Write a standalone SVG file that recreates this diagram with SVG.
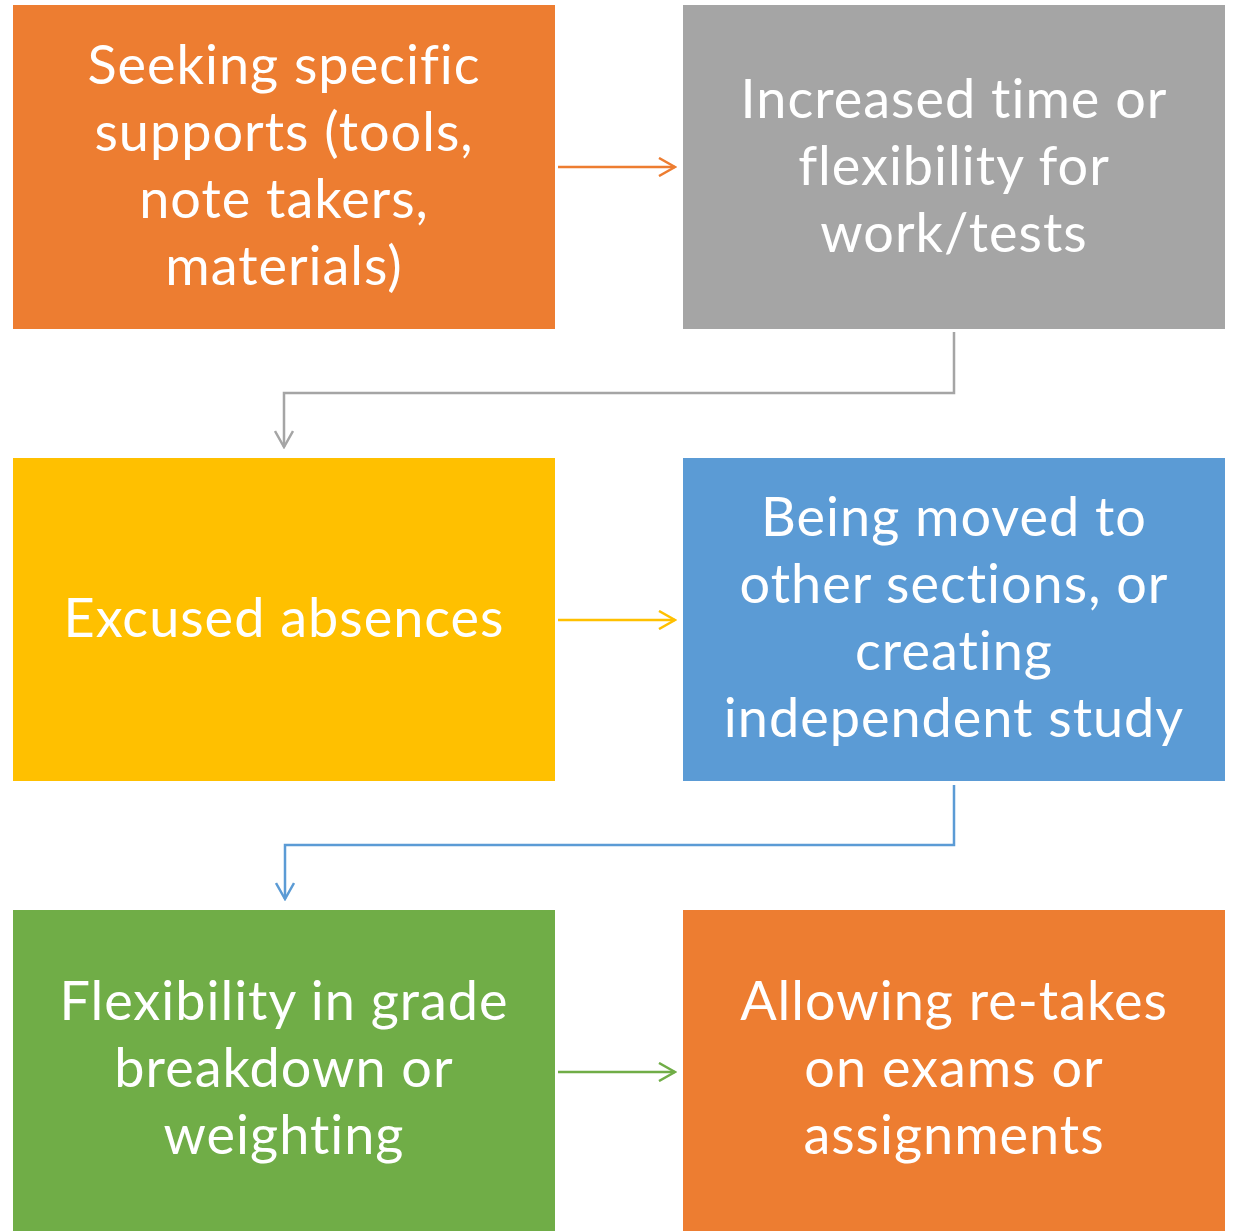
<svg xmlns="http://www.w3.org/2000/svg" width="1236" height="1231" viewBox="0 0 1236 1231">
<style>
.t{font-family:Lato,"Open Sans","Liberation Sans",sans-serif;font-size:54px;letter-spacing:1px;font-variant-ligatures:none;fill:#fff;text-anchor:middle}
.c{fill:none;stroke-width:2.5}
</style>
<defs>
<marker id="mo" viewBox="0 0 20 20" refX="18" refY="10" markerWidth="20" markerHeight="20" markerUnits="userSpaceOnUse" orient="auto"><path d="M2 1 L18 10 L2 19" fill="none" stroke="#ED7D31" stroke-width="2.5"/></marker>
<marker id="mg" viewBox="0 0 20 20" refX="18" refY="10" markerWidth="20" markerHeight="20" markerUnits="userSpaceOnUse" orient="auto"><path d="M2 1 L18 10 L2 19" fill="none" stroke="#A5A5A5" stroke-width="2.5"/></marker>
<marker id="my" viewBox="0 0 20 20" refX="18" refY="10" markerWidth="20" markerHeight="20" markerUnits="userSpaceOnUse" orient="auto"><path d="M2 1 L18 10 L2 19" fill="none" stroke="#FFC000" stroke-width="2.5"/></marker>
<marker id="mb" viewBox="0 0 20 20" refX="18" refY="10" markerWidth="20" markerHeight="20" markerUnits="userSpaceOnUse" orient="auto"><path d="M2 1 L18 10 L2 19" fill="none" stroke="#5B9BD5" stroke-width="2.5"/></marker>
<marker id="mgr" viewBox="0 0 20 20" refX="18" refY="10" markerWidth="20" markerHeight="20" markerUnits="userSpaceOnUse" orient="auto"><path d="M2 1 L18 10 L2 19" fill="none" stroke="#70AD47" stroke-width="2.5"/></marker>
</defs>
<rect width="1236" height="1231" fill="#fff"/>
<g id="connectors">
<path class="c" stroke="#ED7D31" d="M558 167 H675" marker-end="url(#mo)"/>
<path class="c" stroke="#A5A5A5" d="M954 332 V393 H284 V447" marker-end="url(#mg)"/>
<path class="c" stroke="#FFC000" d="M558 620 H675" marker-end="url(#my)"/>
<path class="c" stroke="#5B9BD5" d="M954 785 V845 H285 V899" marker-end="url(#mb)"/>
<path class="c" stroke="#70AD47" d="M558 1072 H675" marker-end="url(#mgr)"/>
</g>
<g id="n1">
<rect x="13" y="5" width="542" height="324" fill="#ED7D31"/>
<text class="t" x="284" y="84">Seeking specific</text>
<text class="t" x="284" y="151">supports (tools,</text>
<text class="t" x="284" y="218">note takers,</text>
<text class="t" x="284" y="285">materials)</text>
</g>
<g id="n2">
<rect x="683" y="5" width="542" height="324" fill="#A5A5A5"/>
<text class="t" x="954" y="118">Increased time or</text>
<text class="t" x="954" y="185">flexibility for</text>
<text class="t" x="954" y="252">work/tests</text>
</g>
<g id="n3">
<rect x="13" y="458" width="542" height="323" fill="#FFC000"/>
<text class="t" x="284" y="637">Excused absences</text>
</g>
<g id="n4">
<rect x="683" y="458" width="542" height="323" fill="#5B9BD5"/>
<text class="t" x="954" y="536">Being moved to</text>
<text class="t" x="954" y="603">other sections, or</text>
<text class="t" x="954" y="670">creating</text>
<text class="t" x="954" y="737">independent study</text>
</g>
<g id="n5">
<rect x="13" y="910" width="542" height="321" fill="#70AD47"/>
<text class="t" x="284" y="1020">Flexibility in grade</text>
<text class="t" x="284" y="1087">breakdown or</text>
<text class="t" x="284" y="1154">weighting</text>
</g>
<g id="n6">
<rect x="683" y="910" width="542" height="321" fill="#ED7D31"/>
<text class="t" x="954" y="1020">Allowing re-takes</text>
<text class="t" x="954" y="1087">on exams or</text>
<text class="t" x="954" y="1154">assignments</text>
</g>
</svg>
